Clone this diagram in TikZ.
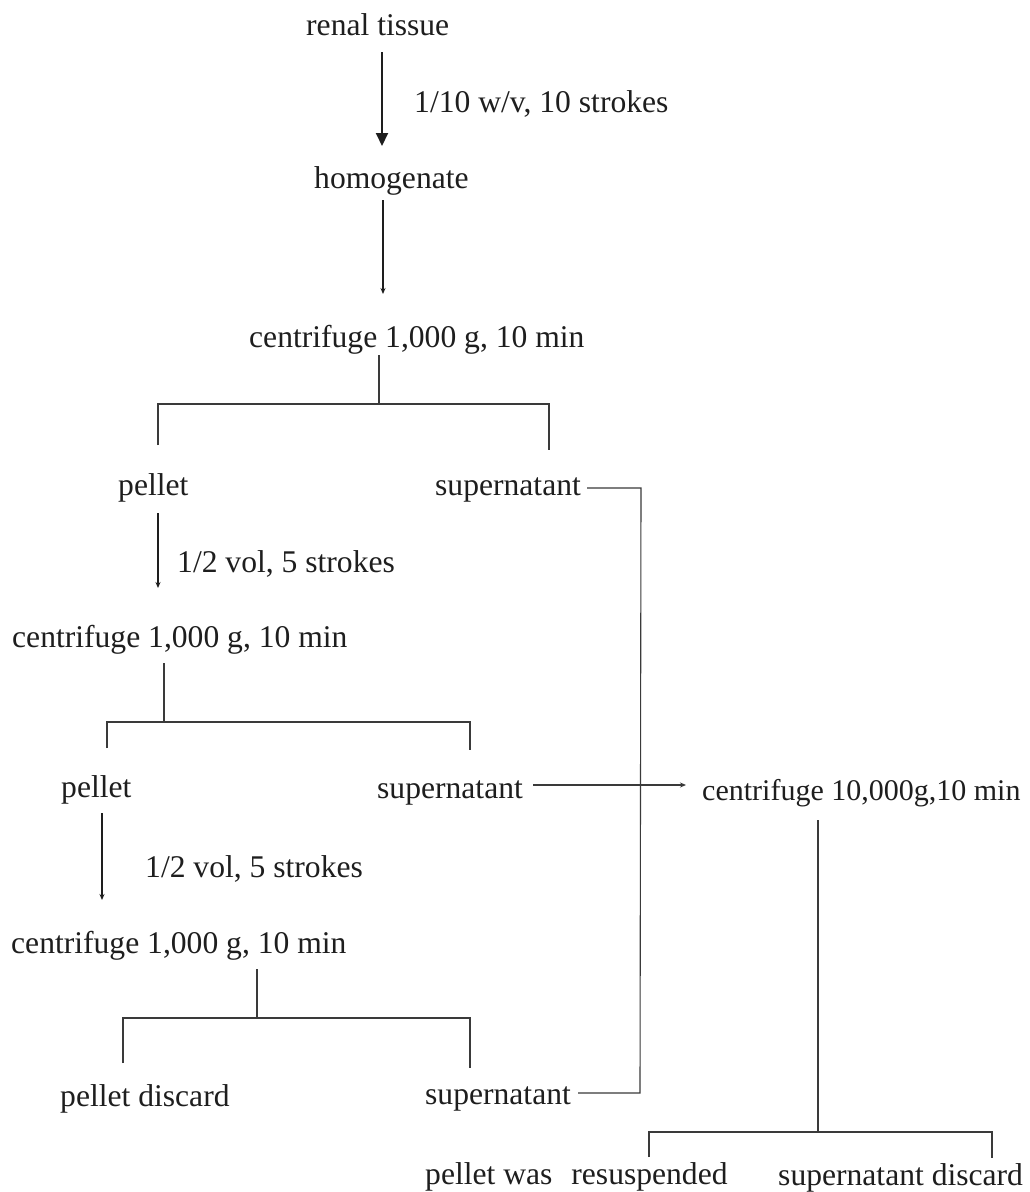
\documentclass[tikz,border=0pt]{standalone}
\usepackage{fontspec}
\setmainfont{Liberation Serif}
\usetikzlibrary{arrows.meta}
\definecolor{ink}{HTML}{1E1E1E}
\definecolor{wire}{HTML}{3A3A3A}
\begin{document}
\begin{tikzpicture}[x=1pt,y=-1pt,
  lbl/.style={anchor=base west,inner sep=0pt,text=ink,font=\fontsize{31.6}{38}\selectfont},
  wirestyle/.style={draw=wire,line width=1.1pt},
  bigarrow/.style={draw=ink,line width=2pt,-{Triangle[length=13pt,width=12pt]}},
  thickarrow/.style={draw=ink,line width=2pt,-{Stealth[length=6pt,width=5pt]}},
  thinarrow/.style={draw=ink,line width=1.3pt,-{Stealth[length=6pt,width=5pt]}}]
\useasboundingbox (0,0) rectangle (1030,1192);
\fill[white] (0,0) rectangle (1030,1192);

% text nodes
\node[lbl] (renal) at (306,35) {renal tissue};
\node[lbl] (lab1) at (414,112) {1/10 w/v, 10 strokes};
\node[lbl] (homog) at (314,188) {homogenate};
\node[lbl] (cen1) at (249,347) {centrifuge 1,000 g, 10 min};
\node[lbl] (pel1) at (118,495) {pellet};
\node[lbl] (sup1) at (435,495) {supernatant};
\node[lbl] (lab2) at (177,572) {1/2 vol, 5 strokes};
\node[lbl] (cen2) at (12,647) {centrifuge 1,000 g, 10 min};
\node[lbl] (pel2) at (61,797) {pellet};
\node[lbl] (sup2) at (377,798) {supernatant};
\node[lbl,font=\fontsize{30}{36}\selectfont] (cen4) at (702,800) {centrifuge 10,000g,10 min};
\node[lbl] (lab3) at (145,877) {1/2 vol, 5 strokes};
\node[lbl] (cen3) at (11,953) {centrifuge 1,000 g, 10 min};
\node[lbl] (pdis) at (60,1106) {pellet discard};
\node[lbl] (sup3) at (425,1104) {supernatant};
\node[lbl] (pres) at (425,1184) {pellet was\hspace{0.6em}resuspended};
\node[lbl] (sdis) at (778,1185) {supernatant discard};

% junction coordinates
\coordinate (a1s) at (382,52);   \coordinate (a1e) at (382,146);
\coordinate (a2s) at (383,200);  \coordinate (a2e) at (383,294);
\coordinate (s1a) at (379,355);  \coordinate (s1b) at (379,404);
\coordinate (b1l) at (158,404);  \coordinate (b1r) at (549,404);
\coordinate (l1l) at (158,445);  \coordinate (l1r) at (549,450);
\coordinate (a3s) at (158,513);  \coordinate (a3e) at (158,588);
\coordinate (s2a) at (164,663);  \coordinate (s2b) at (164,722);
\coordinate (b2l) at (107,722);  \coordinate (b2r) at (470,722);
\coordinate (l2l) at (107,748);  \coordinate (l2r) at (470,750);
\coordinate (a4s) at (102,813);  \coordinate (a4e) at (102,900);
\coordinate (s3a) at (257,969);  \coordinate (s3b) at (257,1018);
\coordinate (b3l) at (123,1018); \coordinate (b3r) at (470,1018);
\coordinate (l3l) at (123,1063); \coordinate (l3r) at (470,1068);
\coordinate (t1)  at (587,488);  \coordinate (t1c) at (641,488);
\coordinate (t3)  at (578,1093); \coordinate (t3c) at (640,1093);
\coordinate (t2)  at (533,785);  \coordinate (t2e) at (686,785);
\coordinate (s4a) at (818,820);  \coordinate (s4b) at (818,1132);
\coordinate (b4l) at (649,1132); \coordinate (b4r) at (992,1132);
\coordinate (l4l) at (649,1157); \coordinate (l4r) at (992,1158);

% arrows
\draw[bigarrow] (a1s) -- (a1e);
\draw[thickarrow] (a2s) -- (a2e);
\draw[thinarrow] (a3s) -- (a3e);
\draw[thinarrow] (a4s) -- (a4e);

% brackets
\draw[wirestyle] (s1a) -- (s1b);
\draw[wirestyle] (l1l) -- (b1l) -- (b1r) -- (l1r);
\draw[wirestyle] (s2a) -- (s2b);
\draw[wirestyle] (l2l) -- (b2l) -- (b2r) -- (l2r);
\draw[wirestyle] (s3a) -- (s3b);
\draw[wirestyle] (l3l) -- (b3l) -- (b3r) -- (l3r);
\draw[wirestyle] (s4a) -- (s4b);
\draw[wirestyle] (l4l) -- (b4l) -- (b4r) -- (l4r);

% supernatant collector
\draw[wirestyle] (t1) -- (t1c) -- (t3c) -- (t3);
\draw[wirestyle,-{Stealth[length=6pt,width=5pt]}] (t2) -- (t2e);
\end{tikzpicture}
\end{document}
